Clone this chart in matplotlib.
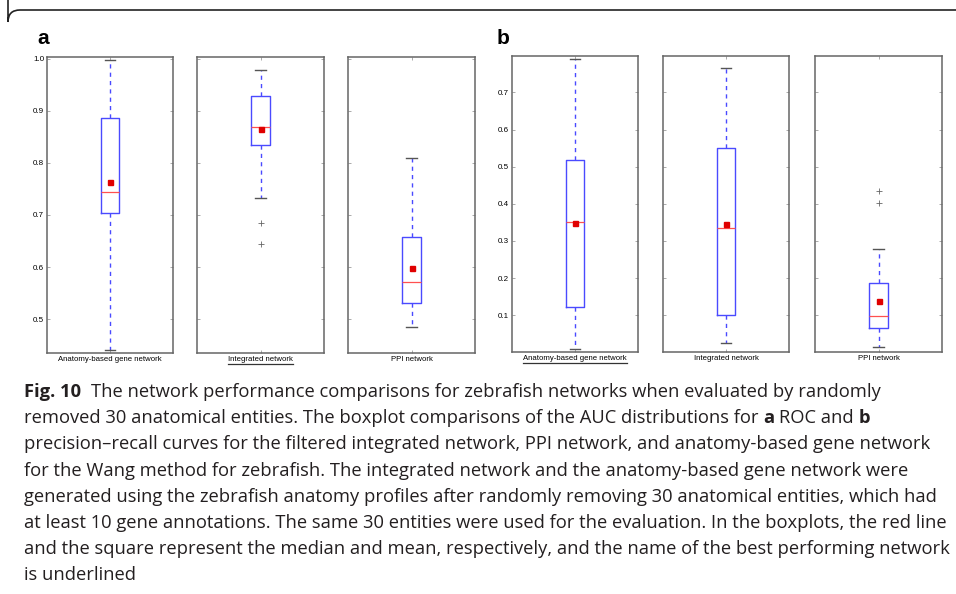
import matplotlib
matplotlib.use("Agg")
import matplotlib.pyplot as plt
from matplotlib.path import Path
from matplotlib.patches import PathPatch
from matplotlib.lines import Line2D
from matplotlib.transforms import Affine2D

W, H = 956, 594

# ---- data (AUC summaries) ----
names = ["Anatomy-based gene network", "Integrated network", "PPI network"]

# a: ROC AUC
roc_whislo = [0.440, 0.733, 0.485]
roc_q1     = [0.703, 0.834, 0.530]
roc_med    = [0.744, 0.868, 0.572]
roc_mean   = [0.763, 0.864, 0.599]
roc_q3     = [0.885, 0.929, 0.658]
roc_whishi = [0.997, 0.978, 0.809]
roc_fliers = [[], [0.685, 0.644], []]

# b: precision-recall AUC
pr_whislo = [0.009, 0.026, 0.014]
pr_q1     = [0.123, 0.100, 0.066]
pr_med    = [0.350, 0.334, 0.099]
pr_mean   = [0.348, 0.345, 0.138]
pr_q3     = [0.518, 0.549, 0.186]
pr_whishi = [0.790, 0.765, 0.278]
pr_fliers = [[], [], [0.434, 0.402]]

roc_best = 1   # underlined
pr_best = 0

caption = [
    [("Fig. 10", True), ("  The network performance comparisons for zebrafish networks when evaluated by randomly", False)],
    [("removed 30 anatomical entities. The boxplot comparisons of the AUC distributions for ", False), ("a", True),
     (" ROC and ", False), ("b", True)],
    [("precision\u2013recall curves for the filtered integrated network, PPI network, and anatomy-based gene network", False)],
    [("for the Wang method for zebrafish. The integrated network and the anatomy-based gene network were", False)],
    [("generated using the zebrafish anatomy profiles after randomly removing 30 anatomical entities, which had", False)],
    [("at least 10 gene annotations. The same 30 entities were used for the evaluation. In the boxplots, the red line", False)],
    [("and the square represent the median and mean, respectively, and the name of the best performing network", False)],
    [("is underlined", False)],
]

# ---- layout (pixel boxes: left, top, right, bottom) ----
boxes_a = [(47, 57, 173, 353), (197, 57, 324, 353), (348, 57, 475, 353)]
boxes_b = [(512, 56, 638, 352), (663, 56, 789, 352), (815, 56, 942, 352)]

fig = plt.figure(figsize=(W / 100, H / 100), dpi=100)
px = Affine2D().scale(1 / 100.) + fig.dpi_scale_trans   # pixel coords, origin bottom left


def add_ax(b):
    l, t, r, bt = b
    return fig.add_axes([l / W, (H - bt) / H, (r - l) / W, (bt - t) / H])


def draw_panel(boxes, whislo, q1, med, mean, q3, whishi, fliers, ylim, yticks):
    axes = []
    for i in range(3):
        ax = add_ax(boxes[i])
        st = [dict(whislo=whislo[i], q1=q1[i], med=med[i], mean=mean[i], q3=q3[i],
                   whishi=whishi[i], fliers=fliers[i], label=names[i])]
        ax.bxp(st, positions=[1], widths=0.15, capwidths=0.085, showmeans=True,
               boxprops=dict(color="#4a4aff", lw=1.0),
               whiskerprops=dict(color="#4a4aff", lw=1.0, linestyle=(0, (3, 3))),
               capprops=dict(color="#555555", lw=1.0),
               medianprops=dict(color="#ff5050", lw=0.9),
               meanprops=dict(marker="s", markerfacecolor="#e00000", markeredgecolor="#e00000", markersize=3.6),
               flierprops=dict(marker="+", markeredgecolor="#666666", markersize=4, markeredgewidth=0.6))
        ax.set_xlim(0.5, 1.5)
        ax.set_ylim(*ylim)
        ax.set_yticks(yticks)
        if i == 0:
            ax.set_yticklabels(["%.1f" % v for v in yticks])
        else:
            ax.set_yticklabels([])
        ax.tick_params(direction="in", length=2.5, width=0.5, color="#888888", labelsize=5.8, pad=2,
                       left=True, right=True, top=True, bottom=True)
        ax.set_xticks([1])
        ax.set_xticklabels([names[i]], fontsize=5.6)
        for s in ax.spines.values():
            s.set_color("#666666")
            s.set_linewidth(1.1)
        axes.append(ax)
    return axes


plt.rcParams["font.family"] = ["Liberation Sans", "DejaVu Sans"]
axa = draw_panel(boxes_a, roc_whislo, roc_q1, roc_med, roc_mean, roc_q3, roc_whishi, roc_fliers,
                 (0.435, 1.003), [0.5, 0.6, 0.7, 0.8, 0.9, 1.0])
axb = draw_panel(boxes_b, pr_whislo, pr_q1, pr_med, pr_mean, pr_q3, pr_whishi, pr_fliers,
                 (0.001, 0.798), [0.1, 0.2, 0.3, 0.4, 0.5, 0.6, 0.7])

fig.text(37 / W, 1 - 38 / H, "a", fontsize=15, fontweight="bold", va="center", ha="left")
fig.text(497 / W, 1 - 38 / H, "b", fontsize=15, fontweight="bold", va="center", ha="left")

# frame with rounded top-left corner
verts = [(8, H + 5), (8, H - 22), (8, H - 10), (20, H - 10), (W + 5, H - 10)]
codes = [Path.MOVETO, Path.LINETO, Path.CURVE3, Path.CURVE3, Path.LINETO]
fig.patches.append(PathPatch(Path(verts, codes), transform=px, fill=False, edgecolor="#222222", lw=1.2))

# caption
cap_font = ["Open Sans", "DejaVu Sans"]
cap_color = "#231f20"
fig.canvas.draw()
rend = fig.canvas.get_renderer()


def text_w(s, bold, fs):
    t = fig.text(0, 0, s, fontsize=fs, family=cap_font, fontweight="bold" if bold else "normal")
    w = t.get_window_extent(rend).width
    t.remove()
    return w


# fit the widest caption line into the same width as the reference
fs0 = 12.0
widest = max(text_w("".join(s for s, b in parts), False, fs0) for parts in caption)
fs = fs0 * 920 / widest

sp = text_w("x x", False, fs) - text_w("xx", False, fs)
line_y = [392, 418, 444, 471, 497, 523, 549, 575]
for li, parts in enumerate(caption):
    x = 24.0
    for s, bold in parts:
        lead = len(s) - len(s.lstrip(" "))
        core = s.strip(" ")
        x += lead * sp
        t = fig.text(x / W, 1 - line_y[li] / H, core, fontsize=fs, family=cap_font,
                     fontweight="bold" if bold else "normal", color=cap_color, va="center", ha="left")
        x = t.get_window_extent(rend).x1 + (len(s) - len(s.rstrip(" "))) * sp

# underline best network labels
fig.canvas.draw()
for ax, best in ((axa, roc_best), (axb, pr_best)):
    lab = ax[best].get_xticklabels()[0]
    bb = lab.get_window_extent(rend)
    yb = bb.y0 - 1.5
    fig.lines.append(Line2D([bb.x0, bb.x1], [yb, yb], transform=px, color="#333333", lw=0.9))

fig.savefig("out.png", dpi=100)
